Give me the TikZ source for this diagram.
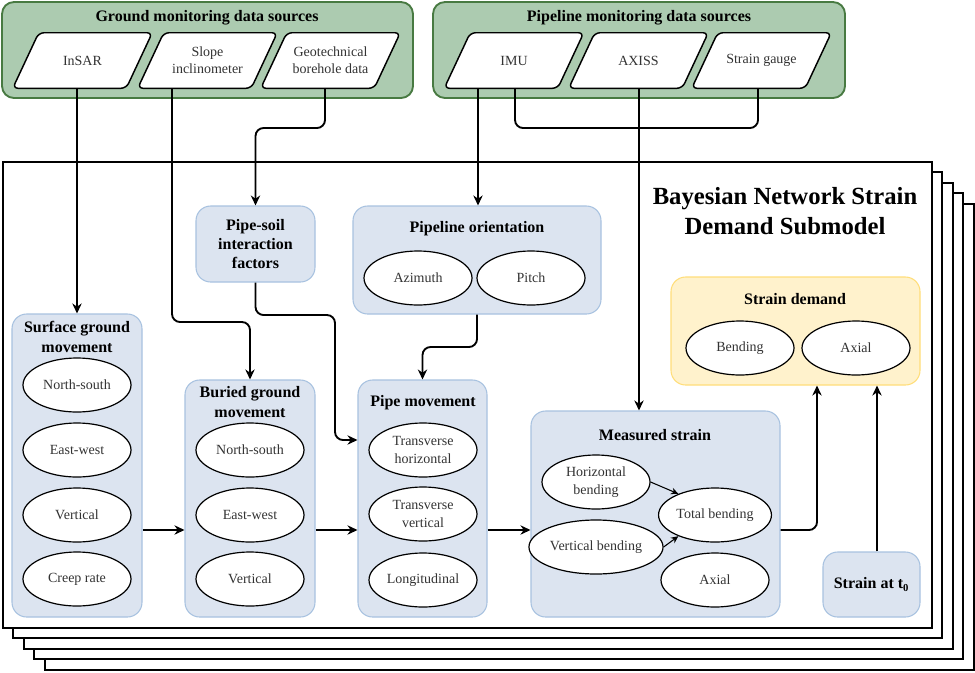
\documentclass[tikz,border=0pt]{standalone}
\usepackage{fontspec}
\setmainfont{Liberation Serif}
\usetikzlibrary{arrows.meta, shapes.geometric, fit}

\definecolor{srcfill}{RGB}{172,203,176}
\definecolor{srcline}{RGB}{72,122,66}
\definecolor{grpfill}{RGB}{220,228,240}
\definecolor{grpline}{RGB}{168,194,224}
\definecolor{dmdfill}{RGB}{255,242,204}
\definecolor{dmdline}{RGB}{255,222,122}
\definecolor{vartext}{RGB}{51,51,51}

\pgfdeclarelayer{back}
\pgfsetlayers{back,main}

\begin{document}
\begin{tikzpicture}[
    x=0.75pt, y=-0.75pt,
    >={Stealth[length=7.5pt, width=7pt]},
    conn/.style={->, line width=1.4pt, rounded corners=6pt},
    link/.style={line width=1.4pt, rounded corners=6pt},
    small/.style={-{Stealth[length=5.5pt, width=5pt]}, line width=0.8pt},
    frame/.style={draw, fill=white, line width=1.4pt},
    srcgrp/.style={draw=srcline, fill=srcfill, line width=1.4pt, rounded corners=9pt, inner sep=0pt},
    grp/.style={draw=grpline, fill=grpfill, line width=0.8pt, rounded corners=11pt, inner sep=0pt},
    dmdgrp/.style={draw=dmdline, fill=dmdfill, line width=0.8pt, rounded corners=11pt, inner sep=0pt},
    title/.style={font=\fontsize{12}{15}\selectfont\bfseries, align=center},
    src/.style={minimum width=84.75pt, minimum height=41.25pt, inner sep=1pt,
        font=\fontsize{10.5}{13}\selectfont, text=vartext, align=center},
    srcshape/.style={draw, fill=white, line width=1.1pt, rounded corners=4pt},
    var/.style={ellipse, draw, fill=white, line width=0.9pt, minimum width=81pt,
        minimum height=40.5pt, inner sep=1pt,
        font=\fontsize{10.5}{13}\selectfont, text=vartext, align=center},
]
\useasboundingbox (0,0) rectangle (975,672);

%--- Stacked submodel frames ---
\foreach \k in {4,3,2,1,0}
    \draw[frame] (3+10.4*\k, 162+10.4*\k) rectangle (932+10.4*\k, 628+10.4*\k);
\node[font=\fontsize{18.5}{23}\selectfont\bfseries, align=center] (bnTitle) at (785,211)
    {Bayesian Network Strain\\Demand Submodel};

%--- Ground monitoring data sources ---
\node[title] (gmdsT) at (207,18) {Ground monitoring data sources};
\node[src] (insar) at (82.5,60.5) {InSAR};
\node[src] (slope) at (207.5,60.5) {Slope\\inclinometer};
\node[src] (geo) at (330.5,60.5) {Geotechnical\\borehole data};

%--- Pipeline monitoring data sources ---
\node[title] (pmdsT) at (639,18) {Pipeline monitoring data sources};
\node[src] (imu) at (514,60.5) {IMU};
\node[src] (axiss) at (638.5,60.5) {AXISS};
\node[src] (sg) at (761.5,60.5) {Strain gauge};

% source boxes and their slanted outlines go under the text
\begin{pgfonlayer}{back}
\node[srcgrp, fit={(2,2) (413,98)}] (gmds) {};
\node[srcgrp, fit={(433,2) (845,98)}] (pmds) {};
\foreach \n in {insar,slope,geo,imu,axiss,sg}
    \draw[srcshape] ([xshift=-9.75pt]\n.south west) -- ([xshift=9.75pt]\n.north west)
        -- ([xshift=9.75pt]\n.north east) -- ([xshift=-9.75pt]\n.south east) -- cycle;
\end{pgfonlayer}

%--- Surface ground movement ---
\node[grp, fit={(12,314) (142,617)}] (sgm) {};
\node[title] (sgmT) at (77,337) {Surface ground\\movement};
\node[var] (sgmNS) at (77,385) {North-south};
\node[var] (sgmEW) at (77,450) {East-west};
\node[var] (sgmV) at (77,515) {Vertical};
\node[var] (sgmCR) at (77,579) {Creep rate};

%--- Buried ground movement ---
\node[grp, fit={(185,380) (315,617)}] (bgm) {};
\node[title] (bgmT) at (250,402) {Buried ground\\movement};
\node[var] (bgmNS) at (250,450) {North-south};
\node[var] (bgmEW) at (250,515) {East-west};
\node[var] (bgmV) at (250,579) {Vertical};

%--- Pipe-soil interaction factors ---
\node[grp, fit={(196,206) (315,282)}] (psi) {};
\node[title, font=\fontsize{12}{14.6}\selectfont\bfseries] (psiT) at (psi) {Pipe-soil\\interaction\\factors};

%--- Pipeline orientation ---
\node[grp, fit={(353,206) (601,314)}] (po) {};
\node[title] (poT) at (477,229) {Pipeline orientation};
\node[var] (poAz) at (418,278) {Azimuth};
\node[var] (poPi) at (531,278) {Pitch};

%--- Pipe movement ---
\node[grp, fit={(358,380) (487,617)}] (pm) {};
\node[title] (pmT) at (423,403) {Pipe movement};
\node[var] (pmTH) at (423,450) {Transverse\\horizontal};
\node[var] (pmTV) at (423,514) {Transverse\\vertical};
\node[var] (pmL) at (423,580) {Longitudinal};

%--- Measured strain ---
\node[grp, fit={(531,411) (780,617)}] (ms) {};
\node[title] (msT) at (655,435) {Measured strain};
\node[var] (hb) at (596,482) {Horizontal\\bending};
\node[var] (vb) at (596,547) {Vertical bending};
\node[var] (tb) at (715,515) {Total bending};
\node[var] (msAx) at (715,580) {Axial};

%--- Strain demand and initial strain ---
\node[dmdgrp, fit={(671,277) (920,385)}] (sd) {};
\node[title] (sdT) at (795,299) {Strain demand};
\node[var] (sdB) at (740,348) {Bending};
\node[var] (sdAx) at (856,348) {Axial};
\node[grp, fit={(823,552) (920,617)}] (st0) {};
\node[title] (st0T) at (st0) {Strain at t\textsubscript{0}};

%--- Connectors ---
\draw[conn] (sgm.north |- insar.south) -- (sgm.north);
\draw[conn] (slope.south -| 172,0) -- (172,322) -| (bgm.north);
\draw[conn] (geo.south -| 325,0) -- (325,128) -| (psi.north);
\draw[conn] (psi.south) -- (psi.south |- 0,315) -| (335,440) -- (pm.west |- 0,440);
\draw[conn] (imu.south -| 478,0) -- (po.north -| 478,0);
\draw[link] (imu.south -| 515,0) |- (639,128) -| (sg.south -| 758,0);
\draw[conn] (axiss.south -| 639,0) -- (ms.north -| 639,0);
\draw[conn] (po.south) -- (po.south |- 0,347) -| (pm.north);
\draw[conn] (sgm.east |- 0,530) -- (bgm.west |- 0,530);
\draw[conn] (bgm.east |- 0,530) -- (pm.west |- 0,530);
\draw[conn] (pm.east |- 0,530) -- (ms.west |- 0,530);
\draw[conn] (ms.east |- 0,530) -| (sd.south -| 817,0);
\draw[conn] (st0.north -| 877,0) -- (sd.south -| 877,0);
\draw[small] (hb.east) -- (tb.150);
\draw[small] (vb.east) -- (tb.210);

\end{tikzpicture}
\end{document}
